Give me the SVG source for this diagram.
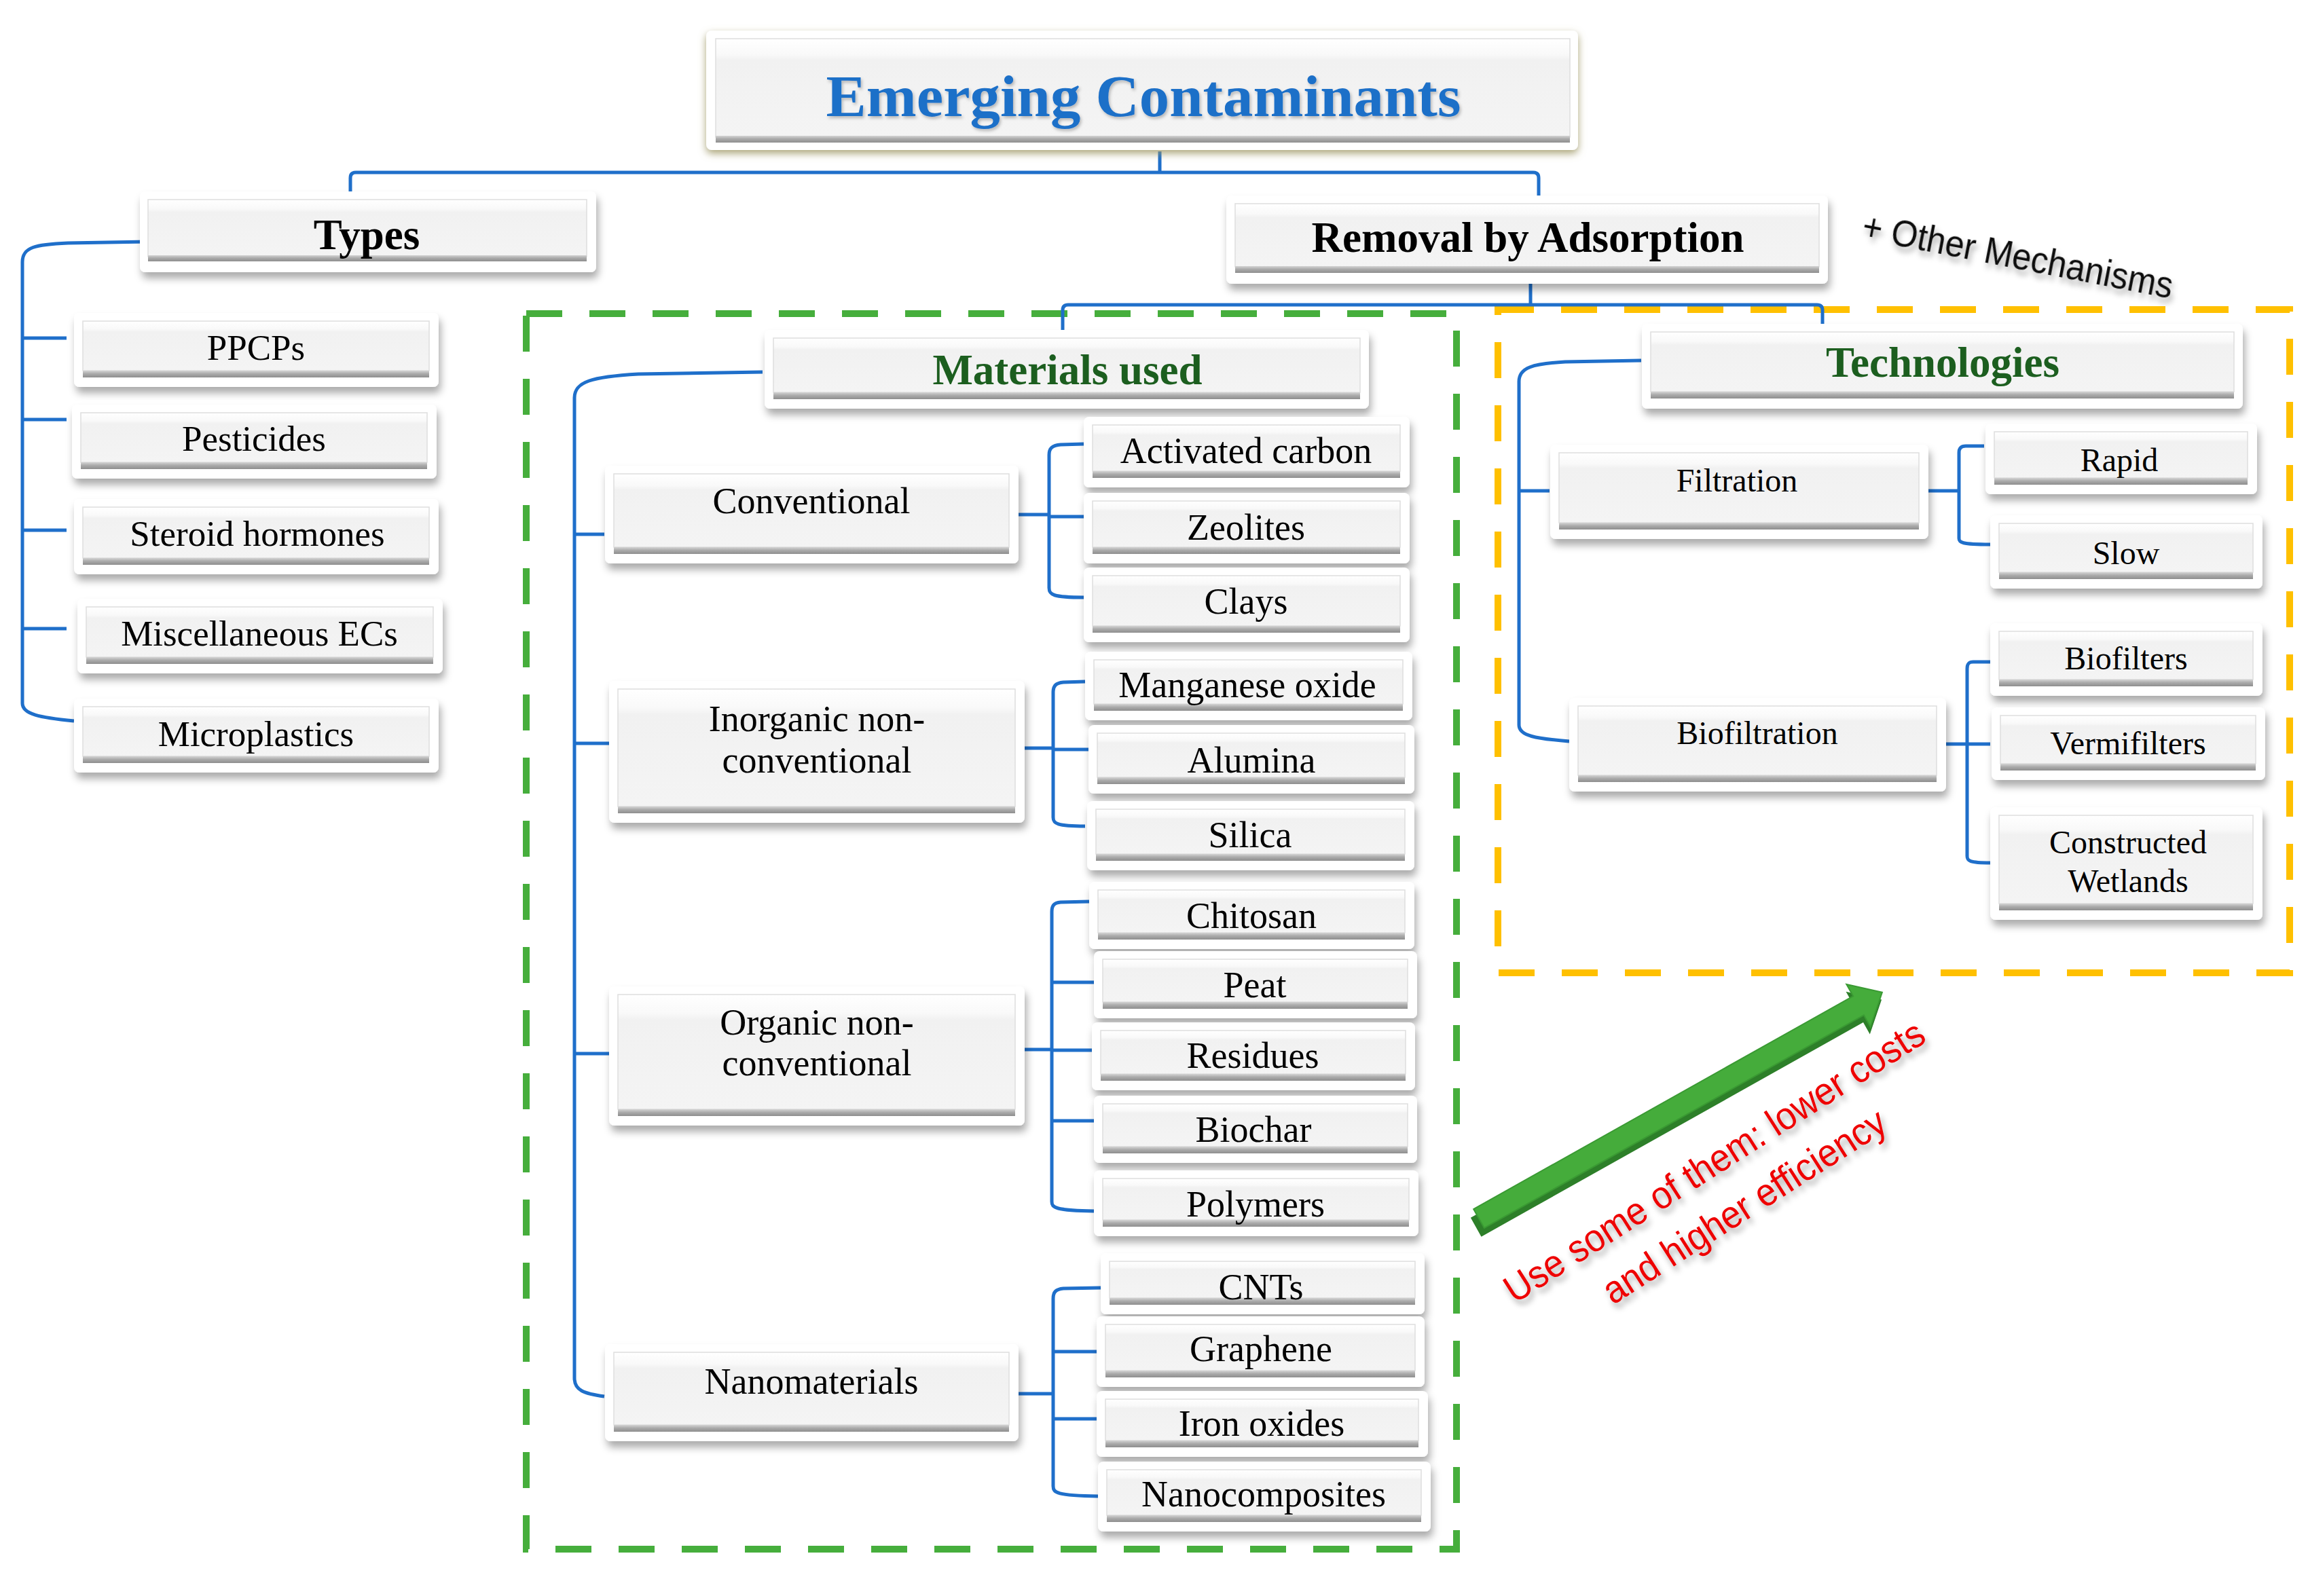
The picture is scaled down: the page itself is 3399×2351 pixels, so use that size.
<svg xmlns="http://www.w3.org/2000/svg" width="3399" height="2351" viewBox="0 0 3399 2351">
<defs>
  <filter id="sh" x="-10%" y="-25%" width="120%" height="160%">
    <feDropShadow dx="3" dy="9" stdDeviation="6" flood-color="#000" flood-opacity="0.33"/>
  </filter>
  <filter id="shT" x="-10%" y="-25%" width="120%" height="160%">
    <feDropShadow dx="0" dy="5" stdDeviation="6" flood-color="#9c9460" flood-opacity="0.85"/>
  </filter>
  <filter id="tsh" x="-10%" y="-30%" width="120%" height="180%">
    <feDropShadow dx="4" dy="7" stdDeviation="4" flood-color="#000" flood-opacity="0.35"/>
  </filter>
  <filter id="tsh2" x="-10%" y="-30%" width="120%" height="180%">
    <feDropShadow dx="2" dy="3" stdDeviation="2" flood-color="#000" flood-opacity="0.25"/>
  </filter>
  <linearGradient id="gIn" x1="0" y1="0" x2="0" y2="1">
    <stop offset="0" stop-color="#ffffff"/>
    <stop offset="0.16" stop-color="#f9f9f9"/>
    <stop offset="0.22" stop-color="#f1f1f1"/>
    <stop offset="1" stop-color="#f4f4f4"/>
  </linearGradient>
  <linearGradient id="gSt" x1="0" y1="0" x2="0" y2="1">
    <stop offset="0" stop-color="#d4d4d4"/>
    <stop offset="0.45" stop-color="#ababab"/>
    <stop offset="1" stop-color="#8e8e8e"/>
  </linearGradient>
  <style>
    .ob{fill:#ffffff;filter:url(#sh)}
    .obt{fill:#ffffff;filter:url(#shT)}
    .ib{fill:url(#gIn);stroke:#dedede;stroke-width:1.5}
    .st{fill:url(#gSt)}
    .cn{fill:none;stroke:#1f6fca;stroke-width:5}
    .t{font-family:"Liberation Serif","Times New Roman",serif;fill:#000;text-anchor:middle}
    .c1{font-size:53px}
    .c2{font-size:54px}
    .c3{font-size:48px}
    .h{font-size:63px;font-weight:bold}
    .hg{fill:#1c5e1f}
    .dg{fill:none;stroke:#46ae3c;stroke-width:10;stroke-dasharray:53 40}
    .dy{fill:none;stroke:#ffc000;stroke-width:10;stroke-dasharray:53 40}
  </style>
</defs>
<rect x="0" y="0" width="3399" height="2351" fill="#ffffff"/>

<!-- dashed frames -->
<g id="frames">
  <rect class="dg" x="775" y="462" width="1370" height="1820"/>
  <rect class="dy" x="2206" y="456" width="1166" height="977"/>
</g>

<!-- connectors -->
<g id="connectors" class="cn">
  <path d="M1708,223 V254 M516,282 V262 Q516,254 524,254 H2258 Q2266,254 2266,262 V288"/>
  <path d="M2254,418 V449 M1565,488 V457 Q1565,449 1573,449 H2676 Q2684,449 2684,457 V477"/>
  <path d="M217,356 L100,358 C52,360 33,364 33,386 L33,1036 C33,1052 58,1057 109,1062"/>
  <path d="M33,498 H98 M33,618 H98 M33,781 H98 M33,926 H98"/>
  <path d="M1123,548 L940,551 C872,555 846,562 846,586 L846,2030 C846,2048 860,2053 890,2057"/>
  <path d="M846,787 H890 M846,1095 H897 M846,1552 H897"/>
  <path d="M1500,758 H1545 M1545,761 H1596"/>
  <path d="M1596,654 L1562,655 C1550,656 1545,660 1545,670 L1545,866 C1545,876 1550,880 1596,880"/>
  <path d="M1509,1102 H1551 M1551,1104 H1603"/>
  <path d="M1598,1004 L1566,1005 C1555,1006 1551,1010 1551,1020 L1551,1204 C1551,1213 1556,1217 1598,1217"/>
  <path d="M1509,1546 H1549 M1549,1447 H1611 M1549,1547 H1608 M1549,1651 H1611"/>
  <path d="M1604,1328 L1562,1329 C1552,1330 1549,1334 1549,1343 L1549,1770 C1549,1779 1554,1783 1611,1784"/>
  <path d="M1500,2053 H1551 M1551,1991 H1615 M1551,2090 H1615"/>
  <path d="M1621,1897 L1566,1898 C1555,1899 1551,1903 1551,1913 L1551,2189 C1551,2199 1556,2203 1617,2204"/>
  <path d="M2417,531 L2305,533 C2258,536 2237,541 2237,562 L2237,1068 C2237,1084 2262,1088 2311,1092"/>
  <path d="M2237,723 H2282"/>
  <path d="M2840,723 H2885 M2922,657 L2895,657 C2888,657 2885,660 2885,667 L2885,793 C2885,799 2888,802 2931,802"/>
  <path d="M2866,1096 H2931 M2931,975 L2906,975 C2899,975 2897,978 2897,985 L2897,1261 C2897,1268 2900,1271 2931,1271"/>
</g>

<!-- title -->
<g id="n-title">
  <rect class="obt" x="1040" y="45" width="1284" height="176" rx="8"/>
  <rect class="ib" x="1054" y="57" width="1258" height="145"/>
  <rect class="st" x="1054" y="200" width="1258" height="10"/>
  <text x="1684" y="171" font-family="'Liberation Serif','Times New Roman',serif" font-weight="bold" font-size="86" fill="#1f6fc8" text-anchor="middle" textLength="935" lengthAdjust="spacingAndGlyphs" filter="url(#tsh2)">Emerging Contaminants</text>
</g>

<!-- level 2 -->
<g id="n-types">
  <rect class="ob" x="206" y="282" width="672" height="119" rx="8"/>
  <rect class="ib" x="218" y="294" width="646" height="84"/>
  <rect class="st" x="218" y="376" width="646" height="9"/>
  <text class="t h" x="540" y="367">Types</text>
</g>
<g id="n-removal">
  <rect class="ob" x="1806" y="288" width="886" height="130" rx="8"/>
  <rect class="ib" x="1819" y="300" width="860" height="93"/>
  <rect class="st" x="1819" y="392" width="860" height="10"/>
  <text class="t h" x="2250" y="371">Removal by Adsorption</text>
</g>
<g id="n-materials">
  <rect class="ob" x="1126" y="486" width="890" height="116" rx="8"/>
  <rect class="ib" x="1139" y="498" width="864" height="80"/>
  <rect class="st" x="1139" y="578" width="864" height="10"/>
  <text class="t h hg" x="1572" y="566">Materials used</text>
</g>
<g id="n-technologies">
  <rect class="ob" x="2418" y="477" width="885" height="125" rx="8"/>
  <rect class="ib" x="2431" y="489" width="859" height="88"/>
  <rect class="st" x="2431" y="577" width="859" height="10"/>
  <text class="t h hg" x="2861" y="555">Technologies</text>
</g>

<!-- types children -->
<g id="n-ppcps">
  <rect class="ob" x="109" y="461" width="537" height="109" rx="8"/>
  <rect class="ib" x="122" y="473" width="510" height="73"/>
  <rect class="st" x="122" y="546" width="510" height="10"/>
  <text class="t c1" x="377" y="530">PPCPs</text>
</g>
<g id="n-pesticides">
  <rect class="ob" x="106" y="596" width="537" height="109" rx="8"/>
  <rect class="ib" x="119" y="608" width="510" height="73"/>
  <rect class="st" x="119" y="681" width="510" height="10"/>
  <text class="t c1" x="374" y="664">Pesticides</text>
</g>
<g id="n-steroid">
  <rect class="ob" x="109" y="735" width="537" height="111" rx="8"/>
  <rect class="ib" x="122" y="747" width="510" height="75"/>
  <rect class="st" x="122" y="822" width="510" height="10"/>
  <text class="t c1" x="379" y="804">Steroid hormones</text>
</g>
<g id="n-misc">
  <rect class="ob" x="114" y="882" width="538" height="110" rx="8"/>
  <rect class="ib" x="127" y="894" width="511" height="74"/>
  <rect class="st" x="127" y="968" width="511" height="10"/>
  <text class="t c1" x="382" y="951">Miscellaneous ECs</text>
</g>
<g id="n-microplastics">
  <rect class="ob" x="109" y="1029" width="537" height="109" rx="8"/>
  <rect class="ib" x="122" y="1041" width="510" height="73"/>
  <rect class="st" x="122" y="1114" width="510" height="10"/>
  <text class="t c1" x="377" y="1099">Microplastics</text>
</g>

<!-- materials level 3 -->
<g id="n-conventional">
  <rect class="ob" x="891" y="686" width="609" height="144" rx="8"/>
  <rect class="ib" x="904" y="698" width="582" height="108"/>
  <rect class="st" x="904" y="806" width="582" height="10"/>
  <text class="t c2" x="1195" y="756">Conventional</text>
</g>
<g id="n-inorganic">
  <rect class="ob" x="897" y="1003" width="612" height="209" rx="8"/>
  <rect class="ib" x="910" y="1015" width="585" height="173"/>
  <rect class="st" x="910" y="1188" width="585" height="10"/>
  <text class="t c2" x="1203" y="1077">Inorganic non-</text>
  <text class="t c2" x="1203" y="1138">conventional</text>
</g>
<g id="n-organic">
  <rect class="ob" x="897" y="1453" width="612" height="205" rx="8"/>
  <rect class="ib" x="910" y="1465" width="585" height="169"/>
  <rect class="st" x="910" y="1634" width="585" height="10"/>
  <text class="t c2" x="1203" y="1524">Organic non-</text>
  <text class="t c2" x="1203" y="1584">conventional</text>
</g>
<g id="n-nanomaterials">
  <rect class="ob" x="891" y="1980" width="609" height="143" rx="8"/>
  <rect class="ib" x="904" y="1992" width="582" height="107"/>
  <rect class="st" x="904" y="2099" width="582" height="10"/>
  <text class="t c2" x="1195" y="2053">Nanomaterials</text>
</g>

<!-- conventional children -->
<g id="n-activated-carbon">
  <rect class="ob" x="1596" y="614" width="480" height="104" rx="8"/>
  <rect class="ib" x="1609" y="626" width="453" height="68"/>
  <rect class="st" x="1609" y="694" width="453" height="10"/>
  <text class="t c2" x="1835" y="682">Activated carbon</text>
</g>
<g id="n-zeolites">
  <rect class="ob" x="1596" y="726" width="480" height="104" rx="8"/>
  <rect class="ib" x="1609" y="738" width="453" height="68"/>
  <rect class="st" x="1609" y="806" width="453" height="10"/>
  <text class="t c2" x="1835" y="795">Zeolites</text>
</g>
<g id="n-clays">
  <rect class="ob" x="1596" y="836" width="480" height="110" rx="8"/>
  <rect class="ib" x="1609" y="848" width="453" height="74"/>
  <rect class="st" x="1609" y="922" width="453" height="10"/>
  <text class="t c2" x="1835" y="904">Clays</text>
</g>

<!-- inorganic children -->
<g id="n-manganese">
  <rect class="ob" x="1598" y="960" width="482" height="101" rx="8"/>
  <rect class="ib" x="1611" y="972" width="455" height="65"/>
  <rect class="st" x="1611" y="1037" width="455" height="10"/>
  <text class="t c2" x="1837" y="1027">Manganese oxide</text>
</g>
<g id="n-alumina">
  <rect class="ob" x="1603" y="1068" width="480" height="101" rx="8"/>
  <rect class="ib" x="1616" y="1080" width="453" height="65"/>
  <rect class="st" x="1616" y="1145" width="453" height="10"/>
  <text class="t c2" x="1843" y="1138">Alumina</text>
</g>
<g id="n-silica">
  <rect class="ob" x="1601" y="1180" width="482" height="102" rx="8"/>
  <rect class="ib" x="1614" y="1192" width="455" height="66"/>
  <rect class="st" x="1614" y="1258" width="455" height="10"/>
  <text class="t c2" x="1841" y="1248">Silica</text>
</g>

<!-- organic children -->
<g id="n-chitosan">
  <rect class="ob" x="1604" y="1299" width="479" height="99" rx="8"/>
  <rect class="ib" x="1617" y="1311" width="452" height="63"/>
  <rect class="st" x="1617" y="1374" width="452" height="10"/>
  <text class="t c2" x="1843" y="1367">Chitosan</text>
</g>
<g id="n-peat">
  <rect class="ob" x="1611" y="1401" width="476" height="99" rx="8"/>
  <rect class="ib" x="1624" y="1413" width="449" height="63"/>
  <rect class="st" x="1624" y="1476" width="449" height="10"/>
  <text class="t c2" x="1848" y="1469">Peat</text>
</g>
<g id="n-residues">
  <rect class="ob" x="1608" y="1506" width="476" height="100" rx="8"/>
  <rect class="ib" x="1621" y="1518" width="449" height="64"/>
  <rect class="st" x="1621" y="1582" width="449" height="10"/>
  <text class="t c2" x="1845" y="1573">Residues</text>
</g>
<g id="n-biochar">
  <rect class="ob" x="1611" y="1614" width="476" height="99" rx="8"/>
  <rect class="ib" x="1624" y="1626" width="449" height="63"/>
  <rect class="st" x="1624" y="1689" width="449" height="10"/>
  <text class="t c2" x="1846" y="1682">Biochar</text>
</g>
<g id="n-polymers">
  <rect class="ob" x="1611" y="1724" width="478" height="97" rx="8"/>
  <rect class="ib" x="1624" y="1736" width="451" height="61"/>
  <rect class="st" x="1624" y="1797" width="451" height="10"/>
  <text class="t c2" x="1849" y="1792">Polymers</text>
</g>

<!-- nano children -->
<g id="n-cnts">
  <rect class="ob" x="1621" y="1846" width="477" height="90" rx="8"/>
  <rect class="ib" x="1634" y="1858" width="450" height="54"/>
  <rect class="st" x="1634" y="1912" width="450" height="10"/>
  <text class="t c2" x="1857" y="1914">CNTs</text>
</g>
<g id="n-graphene">
  <rect class="ob" x="1615" y="1939" width="483" height="104" rx="8"/>
  <rect class="ib" x="1628" y="1951" width="456" height="68"/>
  <rect class="st" x="1628" y="2019" width="456" height="10"/>
  <text class="t c2" x="1857" y="2005">Graphene</text>
</g>
<g id="n-iron-oxides">
  <rect class="ob" x="1615" y="2049" width="488" height="97" rx="8"/>
  <rect class="ib" x="1628" y="2061" width="461" height="61"/>
  <rect class="st" x="1628" y="2122" width="461" height="10"/>
  <text class="t c2" x="1858" y="2115">Iron oxides</text>
</g>
<g id="n-nanocomposites">
  <rect class="ob" x="1617" y="2153" width="490" height="103" rx="8"/>
  <rect class="ib" x="1630" y="2165" width="463" height="67"/>
  <rect class="st" x="1630" y="2232" width="463" height="10"/>
  <text class="t c2" x="1861" y="2219">Nanocomposites</text>
</g>

<!-- technologies -->
<g id="n-filtration">
  <rect class="ob" x="2283" y="655" width="557" height="139" rx="8"/>
  <rect class="ib" x="2296" y="667" width="530" height="103"/>
  <rect class="st" x="2296" y="770" width="530" height="10"/>
  <text class="t c3" x="2558" y="724">Filtration</text>
</g>
<g id="n-rapid">
  <rect class="ob" x="2924" y="624" width="400" height="104" rx="8"/>
  <rect class="ib" x="2937" y="636" width="373" height="68"/>
  <rect class="st" x="2937" y="704" width="373" height="10"/>
  <text class="t c3" x="3121" y="694">Rapid</text>
</g>
<g id="n-slow">
  <rect class="ob" x="2931" y="759" width="401" height="108" rx="8"/>
  <rect class="ib" x="2944" y="771" width="374" height="72"/>
  <rect class="st" x="2944" y="843" width="374" height="10"/>
  <text class="t c3" x="3131" y="831">Slow</text>
</g>
<g id="n-biofiltration">
  <rect class="ob" x="2311" y="1028" width="555" height="138" rx="8"/>
  <rect class="ib" x="2324" y="1040" width="528" height="102"/>
  <rect class="st" x="2324" y="1142" width="528" height="10"/>
  <text class="t c3" x="2588" y="1096">Biofiltration</text>
</g>
<g id="n-biofilters">
  <rect class="ob" x="2931" y="918" width="401" height="107" rx="8"/>
  <rect class="ib" x="2944" y="930" width="374" height="71"/>
  <rect class="st" x="2944" y="1001" width="374" height="10"/>
  <text class="t c3" x="3131" y="986">Biofilters</text>
</g>
<g id="n-vermifilters">
  <rect class="ob" x="2933" y="1042" width="403" height="107" rx="8"/>
  <rect class="ib" x="2946" y="1054" width="376" height="71"/>
  <rect class="st" x="2946" y="1125" width="376" height="10"/>
  <text class="t c3" x="3134" y="1111">Vermifilters</text>
</g>
<g id="n-wetlands">
  <rect class="ob" x="2931" y="1189" width="401" height="166" rx="8"/>
  <rect class="ib" x="2944" y="1201" width="374" height="130"/>
  <rect class="st" x="2944" y="1331" width="374" height="10"/>
  <text class="t c3" x="3134" y="1257">Constructed</text>
  <text class="t c3" x="3134" y="1314">Wetlands</text>
</g>

<!-- annotations -->
<g id="other-mechanisms">
  <text x="2740" y="351" transform="rotate(11 2740 351)" font-family="'Liberation Sans',Arial,sans-serif" font-size="56" fill="#111" textLength="465" lengthAdjust="spacingAndGlyphs" filter="url(#tsh)">+ Other Mechanisms</text>
</g>
<g id="green-arrow">
  <g transform="translate(2178 1795) rotate(-29.3)">
    <polygon points="-4,-16 641,-16 641,-36 681,0 641,36 641,16 -4,16" fill="#2d7f29" transform="translate(-6 9)"/>
    <polygon points="0,-16 641,-16 641,-36 681,0 641,36 641,16 0,16" fill="#45ac3b" stroke="#3a9a33" stroke-width="2"/>
  </g>
</g>
<g id="red-note" font-family="'Liberation Sans',Arial,sans-serif" font-size="57" fill="#ee0000" text-anchor="middle" filter="url(#tsh)">
  <text x="2535" y="1727" transform="rotate(-32.5 2535 1727)" textLength="722" lengthAdjust="spacingAndGlyphs">Use some of them: lower costs</text>
  <text x="2579" y="1793" transform="rotate(-32.5 2579 1793)" textLength="483" lengthAdjust="spacingAndGlyphs">and higher efficiency</text>
</g>
</svg>
